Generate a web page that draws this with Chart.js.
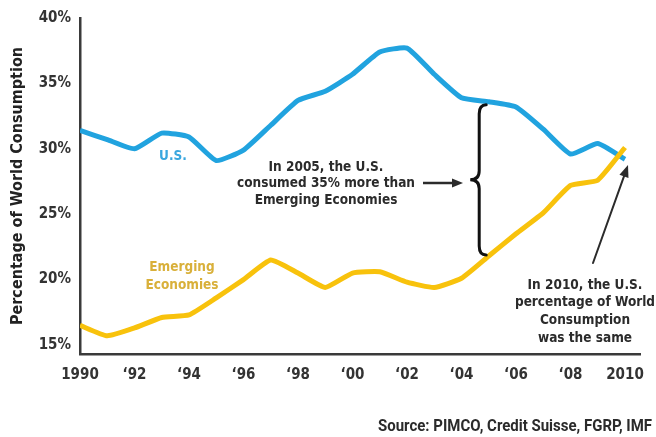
<!DOCTYPE html>
<html>
<head>
<meta charset="utf-8">
<script src="https://cdn.jsdelivr.net/npm/chart.js@4"></script>
<style>
  html, body { margin: 0; padding: 0; background: #fff; }
  #wrap { width: 656px; height: 437px; }
</style>
</head>
<body>
<div id="wrap"><canvas id="chart" width="656" height="437"></canvas></div>
<script>
// data
var years = [1990, 1991, 1992, 1993, 1994, 1995, 1996, 1997, 1998, 1999, 2000,
             2001, 2002, 2003, 2004, 2005, 2006, 2007, 2008, 2009, 2010];
var usShare = [31.4, 30.7, 30.0, 31.2, 30.9, 29.1, 29.9, 31.8, 33.7, 34.4, 35.7,
               37.4, 37.7, 35.7, 33.9, 33.6, 33.2, 31.5, 29.6, 30.4, 29.2];
var emergingShare = [16.5, 15.7, 16.3, 17.1, 17.3, 18.6, 20.0, 21.5, 20.5, 19.4, 20.5,
                     20.6, 19.8, 19.4, 20.1, 21.8, 23.5, 25.1, 27.2, 27.6, 30.1];
var xTickValues = [1990, 1992, 1994, 1996, 1998, 2000, 2002, 2004, 2006, 2008, 2010];
var xTickLabels = ['1990', '\u201892', '\u201894', '\u201896', '\u201898', '\u201800',
                   '\u201802', '\u201804', '\u201806', '\u201808', '2010'];
var yTickValues = [15, 20, 25, 30, 35, 40];

var BLUE = '#21a3df';
var GOLD = '#f8c20c';
var INK = '#2b2b2b';
var FONT = "'DejaVu Sans Condensed', 'DejaVu Sans', sans-serif";

function pts(vals) {
  return vals.map(function (v, i) { return { x: years[i], y: v }; });
}

// arrow with filled head
function arrow(ctx, x1, y1, x2, y2, w, head) {
  var a = Math.atan2(y2 - y1, x2 - x1);
  ctx.save();
  ctx.strokeStyle = INK; ctx.fillStyle = INK; ctx.lineWidth = w;
  ctx.beginPath();
  ctx.moveTo(x1, y1);
  ctx.lineTo(x2 - Math.cos(a) * head * 0.8, y2 - Math.sin(a) * head * 0.8);
  ctx.stroke();
  ctx.beginPath();
  ctx.moveTo(x2, y2);
  ctx.lineTo(x2 - head * Math.cos(a) + head * 0.4 * Math.sin(a), y2 - head * Math.sin(a) - head * 0.4 * Math.cos(a));
  ctx.lineTo(x2 - head * Math.cos(a) - head * 0.4 * Math.sin(a), y2 - head * Math.sin(a) + head * 0.4 * Math.cos(a));
  ctx.closePath();
  ctx.fill();
  ctx.restore();
}

function lines(ctx, arr, x, y0, lh) {
  arr.forEach(function (t, i) { ctx.fillText(t, x, y0 + i * lh); });
}

var notes = {
  id: 'notes',
  afterDraw: function (chart) {
    var ctx = chart.ctx;
    var xs = chart.scales.x, ys = chart.scales.y;
    ctx.save();
    ctx.textAlign = 'center';
    ctx.textBaseline = 'middle';

    ctx.font = 'bold 13.5px ' + FONT;
    ctx.fillStyle = '#3aa7df';
    ctx.fillText('U.S.', 173, 156);
    ctx.fillStyle = '#d9b03a';
    lines(ctx, ['Emerging', 'Economies'], 182, 267, 18);

    ctx.fillStyle = INK;
    lines(ctx, ['In 2005, the U.S.', 'consumed 35% more than', 'Emerging Economies'], 326, 167, 16.5);
    lines(ctx, ['In 2010, the U.S.', 'percentage of World', 'Consumption', 'was the same'], 585, 285, 17.7);

    arrow(ctx, 423, 183, 463, 183, 2.5, 11);

    // brace between the two lines at 2005
    var i05 = years.indexOf(2005);
    var bx = xs.getPixelForValue(2004.65);
    var top = ys.getPixelForValue(usShare[i05]) + 3;
    var bot = ys.getPixelForValue(emergingShare[i05]) - 1;
    var mid = (top + bot) / 2;
    ctx.strokeStyle = '#111';
    ctx.lineWidth = 3;
    ctx.lineCap = 'round';
    ctx.beginPath();
    ctx.moveTo(bx + 7, top);
    ctx.quadraticCurveTo(bx, top, bx, top + 9);
    ctx.lineTo(bx, mid - 9);
    ctx.quadraticCurveTo(bx, mid, bx - 9, mid);
    ctx.quadraticCurveTo(bx, mid, bx, mid + 9);
    ctx.lineTo(bx, bot - 9);
    ctx.quadraticCurveTo(bx, bot, bx + 7, bot);
    ctx.stroke();

    arrow(ctx, 593, 263, 628, 165, 2, 12);

    // source line, squeezed to the narrow width of the original
    var src = 'Source: PIMCO, Credit Suisse, FGRP, IMF';
    ctx.font = "bold 17px 'Liberation Sans Narrow', 'Roboto', sans-serif";
    var w = ctx.measureText(src).width;
    var sx = Math.min(1, 274 / w);
    ctx.translate(652, 431);
    ctx.scale(sx, 1);
    ctx.textAlign = 'right';
    ctx.textBaseline = 'alphabetic';
    ctx.fillStyle = INK;
    ctx.fillText(src, 0, 0);
    ctx.restore();
  }
};

new Chart(document.getElementById('chart'), {
  type: 'line',
  data: {
    datasets: [{
      label: 'U.S.',
      data: pts(usShare),
      borderColor: BLUE,
      borderWidth: 5,
      pointRadius: 0,
      tension: 0.15,
      order: 1
    }, {
      label: 'Emerging Economies',
      data: pts(emergingShare),
      borderColor: GOLD,
      borderWidth: 5,
      pointRadius: 0,
      tension: 0.15,
      order: 0
    }]
  },
  options: {
    responsive: false,
    animation: false,
    events: [],
    layout: { padding: { left: 0, right: 8, top: 17, bottom: 0 } },
    plugins: { legend: { display: false }, tooltip: { enabled: false } },
    scales: {
      x: {
        type: 'linear',
        min: 1990,
        max: 2010.58,
        grid: { display: false, drawTicks: false },
        border: { display: true, color: '#3a3a3a', width: 2.5 },
        afterBuildTicks: function (s) { s.ticks = xTickValues.map(function (v) { return { value: v }; }); },
        afterFit: function (s) { s.height = 83; },
        ticks: {
          padding: 12,
          color: '#333',
          maxRotation: 0,
          autoSkip: false,
          font: { family: FONT, size: 15, weight: 'bold' },
          callback: function (v) { return xTickLabels[xTickValues.indexOf(v)]; }
        }
      },
      y: {
        min: 14.31,
        max: 40,
        grid: { display: false, drawTicks: false },
        border: { display: true, color: '#3a3a3a', width: 2.5 },
        afterBuildTicks: function (s) { s.ticks = yTickValues.map(function (v) { return { value: v }; }); },
        afterFit: function (s) { s.width = 80; },
        ticks: {
          padding: 9,
          color: '#333',
          font: { family: FONT, size: 15, weight: 'bold' },
          callback: function (v) { return v + '%'; }
        },
        title: {
          display: true,
          text: 'Percentage of World Consumption',
          color: '#222',
          padding: { top: 8, bottom: 0 },
          font: { family: FONT, size: 16, weight: 'bold' }
        }
      }
    }
  },
  plugins: [notes]
});
</script>
</body>
</html>
